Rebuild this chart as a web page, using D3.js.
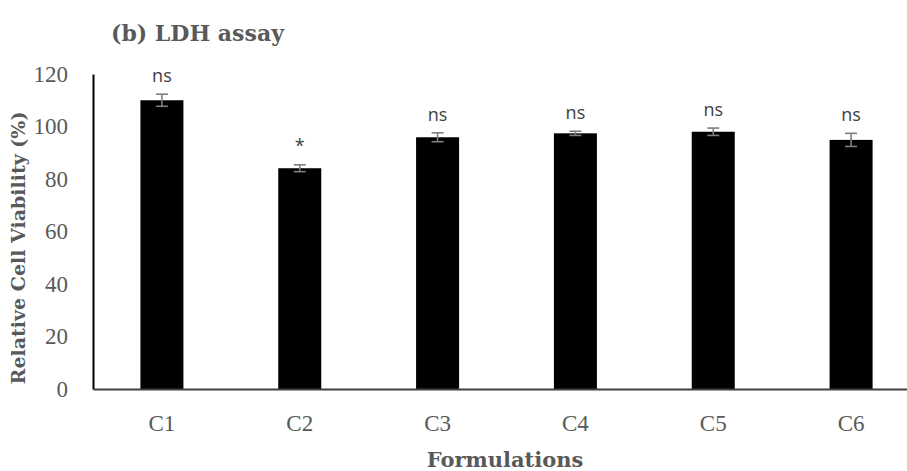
<!DOCTYPE html>
<html><head><meta charset="utf-8">
<script src="https://cdn.jsdelivr.net/npm/d3@7"></script>
<style>body{margin:0;background:#fff}svg{display:block}</style>
</head><body>
<svg id="c" width="907" height="471"></svg>
<script>
const categories = ["C1","C2","C3","C4","C5","C6"];
const values = [110, 84.1, 95.9, 97.4, 98.0, 94.9];
const errors = [2.3, 1.3, 1.7, 0.8, 1.4, 2.5];
const sigLabels = ["ns","*","ns","ns","ns","ns"];
const yTicks = [0,20,40,60,80,100,120];

const svg = d3.select("#c");
const mLeft = 93, mRight = 920, mTop = 74, mBottom = 389;
const x = d3.scaleBand().domain(categories).range([mLeft, mRight]).paddingInner(0.688).paddingOuter(0.344);
const y = d3.scaleLinear().domain([0,120]).range([mBottom, mTop]);
const grey = "#595959";
const serif = "'Liberation Serif', 'DejaVu Serif', serif";
const serifB = "'DejaVu Serif', 'Liberation Serif', serif";

// title
svg.append("text").attr("x",111).attr("y",41).attr("font-family",serifB).attr("font-weight","bold")
  .attr("font-size",22).attr("fill",grey).text("(b) LDH assay");

// bars
svg.selectAll("rect.bar").data(categories).join("rect").attr("class","bar")
  .attr("x",d=>x(d)).attr("width",x.bandwidth())
  .attr("y",(d,i)=>y(values[i])).attr("height",(d,i)=>y(0)-y(values[i])).attr("fill","#000");

// error bars
const eb = svg.append("g").attr("stroke","#7f7f7f").attr("stroke-width",1.6);
categories.forEach((c,i)=>{
  const cx = x(c)+x.bandwidth()/2;
  const y1 = y(values[i]+errors[i]), y2 = y(values[i]-errors[i]);
  eb.append("line").attr("x1",cx).attr("x2",cx).attr("y1",y1).attr("y2",y2);
  eb.append("line").attr("x1",cx-6).attr("x2",cx+6).attr("y1",y1).attr("y2",y1);
  eb.append("line").attr("x1",cx-6).attr("x2",cx+6).attr("y1",y2).attr("y2",y2);
});

// significance labels
svg.selectAll("text.sig").data(categories).join("text").attr("class","sig")
  .attr("x",d=>x(d)+x.bandwidth()/2)
  .attr("y",(d,i)=>y(values[i]+errors[i]) - (sigLabels[i]==="*" ? 13 : 12))
  .attr("text-anchor","middle").attr("font-family","'Open Sans','Liberation Sans',sans-serif")
  .attr("font-size",18).attr("fill","#404040")
  .text((d,i)=>sigLabels[i]);

// y axis
const ya = svg.append("g").attr("transform",`translate(${mLeft},0)`)
  .call(d3.axisLeft(y).tickValues(yTicks).tickSize(0).tickPadding(25));
ya.select(".domain").attr("stroke","#000").attr("stroke-width",2);
ya.selectAll("text").attr("font-family",serif).attr("font-size",23).attr("fill",grey);

// x axis
const xa = svg.append("g").attr("transform",`translate(0,${mBottom})`)
  .call(d3.axisBottom(x).tickSize(0).tickPadding(26));
xa.select(".domain").attr("stroke","#404040").attr("stroke-width",2);
xa.selectAll("text").attr("font-family",serif).attr("font-size",23).attr("fill",grey);

// axis titles
svg.append("text").attr("transform","translate(25,248) rotate(-90)").attr("text-anchor","middle")
  .attr("font-family",serifB).attr("font-weight","bold").attr("font-size",19).attr("fill",grey)
  .text("Relative Cell Viability (%)");
svg.append("text").attr("x",505).attr("y",467).attr("text-anchor","middle")
  .attr("font-family",serifB).attr("font-weight","bold").attr("font-size",21).attr("fill",grey)
  .text("Formulations");
</script>
</body></html>
